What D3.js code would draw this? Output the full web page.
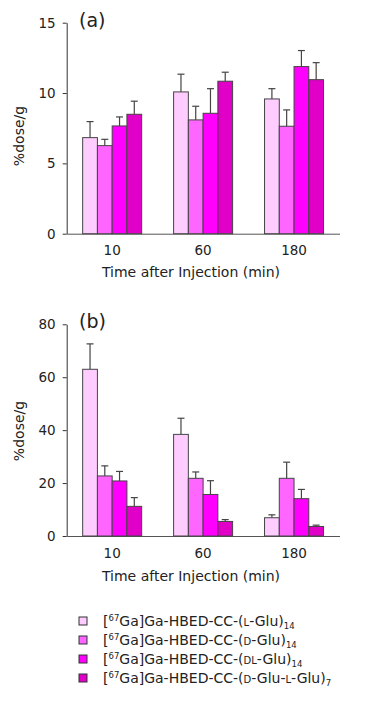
<!DOCTYPE html>
<html><head><meta charset="utf-8">
<script src="https://cdn.jsdelivr.net/npm/d3@7"></script>
<style>
body{margin:0;background:#fff;}
text{font-family:"DejaVu Sans",sans-serif;fill:#222;}
</style></head>
<body><svg id="c" width="368" height="715"></svg>
<script>
const categories = ["10","60","180"];
const seriesNames = ["L-Glu","D-Glu","DL-Glu","D-Glu-L-Glu"];
const colors = ["#ffccff","#ff66ff","#ff00ff","#e000c8"];
// panel (a)
const aValues = [[6.83,10.08,9.58],[6.26,8.09,7.64],[7.66,8.56,11.88],[8.49,10.84,10.95]];
const aErrors = [[1.14,1.26,0.73],[0.45,0.97,1.16],[0.64,1.75,1.14],[0.93,0.64,1.21]];
const aTicks = [0,5,10,15];
// panel (b)
const bValues = [[63.0,38.4,6.9],[22.7,21.8,21.8],[20.8,15.7,14.1],[11.2,5.5,3.6]];
const bErrors = [[9.6,6.1,1.1],[3.8,2.4,6.1],[3.6,5.2,3.5],[3.3,0.7,0.5]];
const bTicks = [0,20,40,60,80];

const svg = d3.select("#c");

function panel(cfg){
  const g = svg.append("g");
  const x0 = d3.scaleBand().domain(categories).range([66.7,339.5]);
  const x1 = d3.scaleBand().domain(d3.range(4)).range([-29.5,29.5]);
  const y = d3.scaleLinear().domain(cfg.domain).range([cfg.y0,cfg.y1]);
  const ya = g.append("g").attr("transform","translate(66.7,0)")
    .call(d3.axisLeft(y).tickValues(cfg.ticks).tickSize(4).tickPadding(7).tickSizeOuter(0));
  ya.select(".domain").attr("stroke","#333");
  ya.selectAll(".tick line").attr("stroke","#333");
  ya.selectAll("text").attr("font-size","13.5px").attr("fill","#222");
  const xa = g.append("g").attr("transform",`translate(0,${cfg.y0})`)
    .call(d3.axisBottom(x0).tickSize(0).tickPadding(12).tickSizeOuter(0));
  xa.select(".domain").attr("stroke","#555");
  xa.selectAll("text").attr("font-size","13.5px").attr("fill","#222");
  cfg.values.forEach((vals,si)=>{
    vals.forEach((v,ci)=>{
      const cx = x0(categories[ci]) + x0.bandwidth()/2 + x1(si);
      const w = x1.bandwidth();
      const e = cfg.errors[si][ci];
      const mx = cx + w/2;
      g.append("line").attr("x1",mx).attr("x2",mx).attr("y1",y(v)).attr("y2",y(v+e))
        .attr("stroke","#444").attr("stroke-width",1.2);
      g.append("line").attr("x1",mx-3.5).attr("x2",mx+3.5).attr("y1",y(v+e)).attr("y2",y(v+e))
        .attr("stroke","#444").attr("stroke-width",1.2);
      g.append("rect").attr("x",cx).attr("y",y(v)).attr("width",w).attr("height",y(0)-y(v))
        .attr("fill",colors[si]).attr("stroke","#444").attr("stroke-width",1);
    });
  });
  g.append("text").attr("x",79).attr("y",cfg.y1+4).attr("font-size","19px").text(cfg.label);
  g.append("text").attr("transform",`translate(24,${cfg.ytitle}) rotate(-90)`)
    .attr("text-anchor","middle").attr("font-size","14px").text("%dose/g");
  g.append("text").attr("x",191).attr("y",cfg.xtitle).attr("text-anchor","middle")
    .attr("font-size","14px").text("Time after Injection (min)");
}

panel({domain:[0,15],y0:233.7,y1:22.7,ticks:aTicks,values:aValues,errors:aErrors,label:"(a)",ytitle:136,xtitle:277});
panel({domain:[0,80],y0:536,y1:324.3,ticks:bTicks,values:bValues,errors:bErrors,label:"(b)",ytitle:431,xtitle:581});

const legend = svg.append("g");
const legendDefs = [
  {pre:"-(", parts:[["L","sc"],["-Glu)",""]], sub:"14"},
  {pre:"-(", parts:[["D","sc"],["-Glu)",""]], sub:"14"},
  {pre:"-(", parts:[["DL","sc"],["-Glu)",""]], sub:"14"},
  {pre:"-(", parts:[["D","sc"],["-Glu-",""],["L","sc"],["-Glu)",""]], sub:"7"}
];
legendDefs.forEach((d,i)=>{
  const yy = 621 + i*19;
  legend.append("rect").attr("x",79).attr("y",yy-4).attr("width",8).attr("height",8)
    .attr("fill",colors[i]).attr("stroke","#333").attr("stroke-width",1);
  const t = legend.append("text").attr("x",103).attr("y",yy+5).attr("font-size","14px");
  t.append("tspan").text("[");
  t.append("tspan").attr("font-size","8.5px").attr("dy",-5).text("67");
  t.append("tspan").attr("dy",5).text("Ga]Ga-HBED-CC"+d.pre);
  d.parts.forEach(p=>{
    t.append("tspan").attr("font-size",p[1]==="sc"?"10px":"14px").text(p[0]);
  });
  t.append("tspan").attr("font-size","8.5px").attr("dy",3).text(d.sub);
});
</script></body></html>
